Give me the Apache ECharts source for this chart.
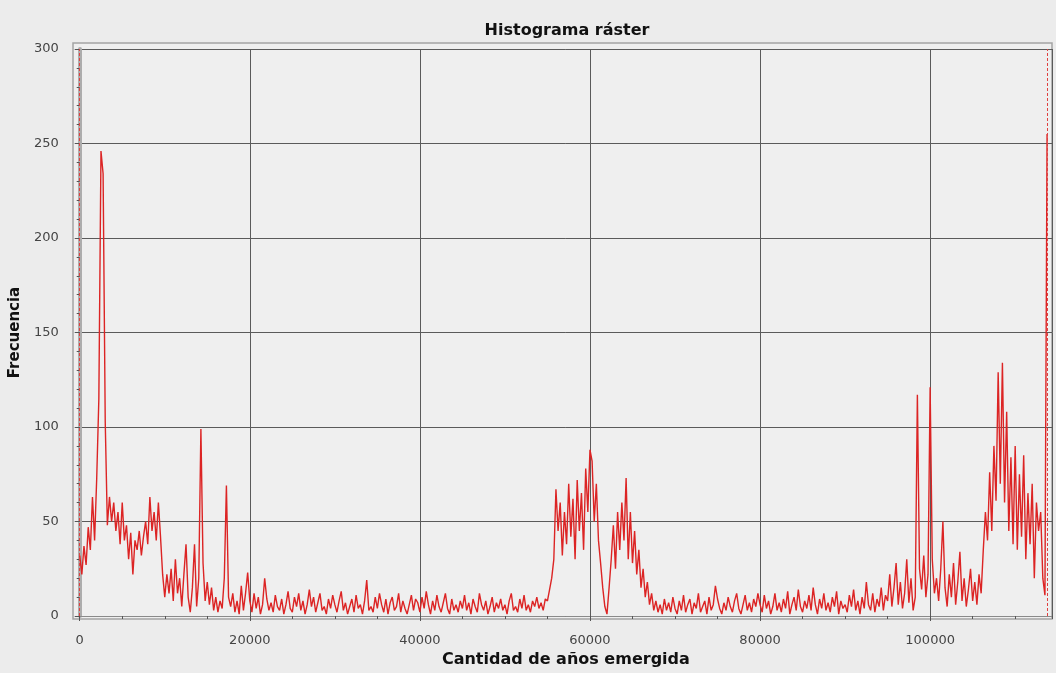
<!DOCTYPE html>
<html>
<head>
<meta charset="utf-8">
<script src="https://cdn.jsdelivr.net/npm/echarts/dist/echarts.min.js"></script>
<style>html,body{margin:0;padding:0;background:#ececec;}#chart{width:1056px;height:673px;}</style>
</head>
<body>
<div id="chart"></div>
<script>
// ---- data ----
const titleText = 'Histograma ráster';
const xAxisName = 'Cantidad de años emergida';
const yAxisName = 'Frecuencia';
const BIN_WIDTH = 250;           // histogram bin width (x units)
const xMax = 114330;
const yMax = 300;
const xMajorStep = 20000;
const xMinorStep = 5000;
const yMajorStep = 50;
const yMinorStep = 10;
const markers = [0, 113750];     // min / max markers (red dashed)

// frequencies, 20 bins (5000 units) per row
const f00000 = [32, 22, 37, 27, 47, 35, 63, 40, 73, 115, 246, 234, 103, 48, 63, 50, 60, 45, 55, 38];
const f05000 = [60, 40, 48, 30, 44, 22, 40, 35, 45, 32, 42, 50, 38, 63, 45, 55, 40, 60, 42, 22];
const f10000 = [10, 22, 12, 25, 8, 30, 12, 20, 5, 22, 38, 10, 2, 15, 38, 5, 20, 99, 28, 8];
const f15000 = [18, 6, 15, 3, 10, 2, 8, 4, 20, 69, 10, 5, 12, 2, 8, 1, 16, 3, 12, 23];
const f20000 = [8, 2, 12, 4, 10, 1, 6, 20, 9, 3, 7, 2, 11, 5, 3, 9, 1, 6, 13, 4];
const f25000 = [2, 10, 5, 12, 3, 8, 1, 6, 14, 5, 10, 2, 7, 12, 3, 5, 1, 9, 4, 11];
const f30000 = [6, 2, 8, 13, 3, 7, 1, 5, 9, 2, 11, 4, 6, 1, 8, 19, 3, 5, 2, 10];
const f35000 = [4, 12, 6, 2, 9, 1, 7, 10, 3, 5, 12, 2, 8, 4, 1, 6, 11, 3, 9, 7];
const f40000 = [2, 10, 4, 13, 6, 1, 8, 3, 11, 5, 2, 7, 12, 4, 1, 9, 3, 6, 2, 8];
const f45000 = [4, 11, 3, 7, 1, 9, 5, 2, 12, 6, 3, 8, 1, 5, 10, 2, 7, 4, 9, 3];
const f50000 = [6, 1, 8, 12, 3, 5, 2, 9, 4, 11, 3, 6, 2, 8, 5, 10, 4, 7, 3, 9];
const f55000 = [8, 14, 20, 30, 67, 45, 60, 32, 55, 38, 70, 42, 62, 30, 72, 45, 65, 35, 78, 55];
const f60000 = [88, 82, 50, 70, 40, 28, 15, 5, 1, 15, 30, 48, 25, 55, 35, 60, 40, 73, 30, 55];
const f65000 = [28, 45, 22, 35, 15, 25, 10, 18, 6, 12, 3, 8, 2, 6, 1, 9, 3, 7, 2, 10];
const f70000 = [4, 1, 8, 3, 11, 2, 6, 9, 1, 7, 4, 12, 2, 5, 8, 1, 10, 3, 6, 16];
const f75000 = [9, 4, 1, 7, 3, 10, 5, 2, 8, 12, 4, 1, 6, 11, 3, 7, 2, 9, 5, 12];
const f80000 = [6, 2, 11, 4, 8, 1, 5, 12, 3, 7, 2, 9, 4, 13, 1, 6, 10, 3, 14, 5];
const f85000 = [2, 8, 4, 11, 3, 15, 6, 1, 9, 4, 12, 3, 7, 2, 10, 5, 13, 1, 8, 4];
const f90000 = [6, 2, 11, 5, 14, 3, 8, 1, 10, 4, 18, 6, 3, 12, 2, 9, 5, 15, 3, 11];
const f95000 = [8, 22, 5, 15, 28, 6, 18, 4, 12, 30, 7, 20, 3, 10, 117, 25, 14, 32, 10, 22];
const f100000 = [121, 30, 12, 20, 8, 25, 50, 15, 5, 22, 10, 28, 6, 18, 34, 8, 20, 5, 14, 25];
const f105000 = [8, 18, 6, 22, 12, 35, 55, 40, 76, 45, 90, 61, 129, 70, 134, 60, 108, 45, 84, 38];
const f110000 = [90, 35, 75, 42, 85, 30, 65, 38, 70, 20, 60, 45, 55, 20, 11, 255];

const frequencies = [].concat(f00000, f05000, f10000, f15000, f20000, f25000, f30000, f35000,
  f40000, f45000, f50000, f55000, f60000, f65000, f70000, f75000, f80000, f85000, f90000,
  f95000, f100000, f105000, f110000);

const seriesData = frequencies.map((v, i) => [i * BIN_WIDTH, v]);

// ---- chart ----
const FONT = 'DejaVu Sans';
const chart = echarts.init(document.getElementById('chart'), null, {renderer: 'canvas'});
const option = {
  backgroundColor: '#ececec',
  animation: false,
  title: {
    text: titleText, left: 562, top: 18, textAlign: 'center',
    textStyle: {fontFamily: FONT, fontWeight: 'bold', fontSize: 16, color: '#111'}
  },
  graphic: [{
    type: 'rect', z: -10, silent: true,
    shape: {x: 73, y: 43, width: 979, height: 576},
    style: {fill: '#efefef', stroke: '#a4a4a4', lineWidth: 1.5}
  }],
  grid: {left: 79, right: 4, top: 49, bottom: 56, containLabel: false},
  xAxis: [{
    type: 'value', min: 0, max: xMax, interval: xMajorStep, position: 'bottom', offset: 8,
    name: xAxisName, nameLocation: 'middle', nameGap: 28,
    nameTextStyle: {fontFamily: FONT, fontWeight: 'bold', fontSize: 16, color: '#111'},
    axisLine: {show: true, lineStyle: {color: '#8a8a8a', width: 1}},
    axisTick: {show: true, length: 5, lineStyle: {color: '#555'}},
    axisLabel: {margin: 10, fontFamily: FONT, fontSize: 13, color: '#444', showMaxLabel: false,
      formatter: v => String(v)},
    splitLine: {show: true, lineStyle: {color: '#5a5a5a', width: 1}}
  }, {
    type: 'value', min: 0, max: xMax, interval: xMinorStep, position: 'bottom', offset: 8,
    axisLine: {show: false}, axisLabel: {show: false}, splitLine: {show: false},
    axisTick: {show: true, length: 3, lineStyle: {color: '#555'}}
  }],
  yAxis: [{
    type: 'value', min: 0, max: yMax, interval: yMajorStep, position: 'left', offset: 9,
    name: yAxisName, nameLocation: 'middle', nameGap: 41,
    nameTextStyle: {fontFamily: FONT, fontWeight: 'bold', fontSize: 15, color: '#111'},
    axisLine: {show: true, lineStyle: {color: '#adadad', width: 4}},
    axisTick: {show: true, length: 5, lineStyle: {color: '#555'}},
    axisLabel: {margin: 12, fontFamily: FONT, fontSize: 13, color: '#444',
      formatter: v => String(v)},
    splitLine: {show: true, lineStyle: {color: '#5a5a5a', width: 1}}
  }, {
    type: 'value', min: 0, max: yMax, interval: yMinorStep, position: 'left', offset: 9,
    axisLine: {show: false}, axisLabel: {show: false}, splitLine: {show: false},
    axisTick: {show: true, length: 3, lineStyle: {color: '#555'}}
  }],
  series: [{
    type: 'line', xAxisIndex: 0, yAxisIndex: 0,
    data: seriesData, showSymbol: false, sampling: null,
    lineStyle: {color: '#dc2424', width: 1.4},
    itemStyle: {color: '#dc2424'},
    markLine: {
      silent: true, symbol: 'none', label: {show: false}, animation: false,
      lineStyle: {color: '#e04040', type: [3, 2], width: 1},
      data: markers.map(v => ({xAxis: v}))
    }
  }]
};
chart.setOption(option);
</script>
</body>
</html>
